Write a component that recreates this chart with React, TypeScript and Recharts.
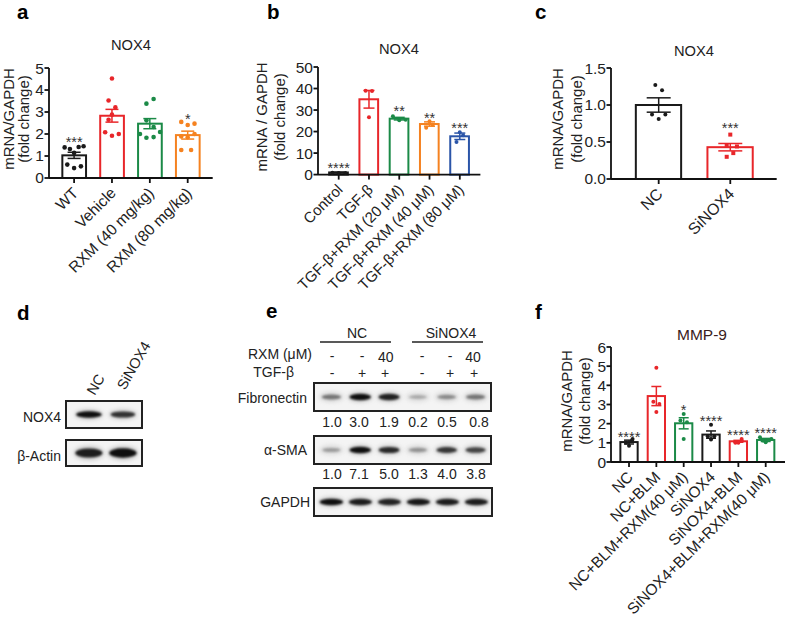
import {
  Bar,
  BarChart,
  ComposedChart,
  ErrorBar,
  Scatter,
  XAxis,
  YAxis,
} from "recharts";

const FONT = "'Liberation Sans', Arial, sans-serif";
const BLACK = "#1a1a1a";
const RED = "#e8262a";
const GREEN = "#1b8a47";
const ORANGE = "#f58220";
const BLUE = "#2b55a8";

// panel a
const aLabels = ["WT", "Vehicle", "RXM (40 mg/kg)", "RXM (80 mg/kg)"];
const aMeans = [1.03, 2.83, 2.47, 1.95];
const aErrs = [0.14, 0.29, 0.23, 0.18];
const aDots = [
  [1.39, 1.32, 1.41, 1.44, 1.14, 0.61, 0.45, 0.53],
  [4.52, 3.52, 3.21, 2.88, 2.65, 2.08, 1.92, 2.0],
  [3.38, 3.59, 2.62, 2.32, 2.0, 2.09, 1.83, 1.86],
  [2.55, 2.47, 2.41, 2.0, 1.89, 1.85, 1.27, 1.27],
];
const aJitter = [
  [-0.25, -0.11, 0.12, 0.25, 0, -0.18, 0, 0.18],
  [0, -0.09, 0.09, 0, -0.09, -0.18, 0, 0.18],
  [-0.09, 0.1, -0.09, 0.1, -0.26, 0.27, -0.09, 0.1],
  [-0.17, 0.18, 0, 0.18, -0.17, 0, -0.17, 0.09],
];
const aStars = [
  { x: 1, y: 1.77, label: "***" },
  { x: 4, y: 2.8, label: "*" },
];

// panel b
const bLabels = [
  "Control",
  "TGF-β",
  "TGF-β+RXM (20 μM)",
  "TGF-β+RXM (40 μM)",
  "TGF-β+RXM (80 μM)",
];
const bMeans = [1, 35, 26, 23.5, 17.8];
const bErrs = [0.1, 4.1, 0.6, 1, 1.5];
const bDots = [
  [0.9, 0.7, 0.8],
  [39, 38.9, 26.6],
  [27.1, 25.2, 25.5],
  [24.8, 21.8, 23.2],
  [19.7, 15.2, 18.3],
];
const bJitter = [
  [-0.21, 0, 0.22],
  [-0.11, 0.1, 0],
  [-0.21, 0, 0.21],
  [0, -0.11, 0.1],
  [0, -0.11, 0.11],
];
const bStars = [
  { x: 1, y: 4.3, label: "****" },
  { x: 3, y: 30.8, label: "**" },
  { x: 4, y: 27.9, label: "**" },
  { x: 5, y: 22.9, label: "***" },
];

// panel c
const cLabels = ["NC", "SiNOX4"];
const cMeans = [1.0, 0.43];
const cErrs = [0.097, 0.05];
const cDots = [
  [1.27, 1.2, 0.87, 0.87, 0.81],
  [0.6, 0.45, 0.44, 0.35, 0.3],
];
const cJitter = [
  [-0.047, 0.047, -0.093, 0.093, 0],
  [0, -0.05, 0.093, 0.042, -0.05],
];
const cStars = [{ x: 2, y: 0.725, label: "***" }];

// panel f
const fLabels = [
  "NC",
  "NC+BLM",
  "NC+BLM+RXM(40 μM)",
  "SiNOX4",
  "SiNOX4+BLM",
  "SiNOX4+BLM+RXM(40 μM)",
];
const fMeans = [1.04, 3.44, 2.02, 1.43, 1.08, 1.15];
const fErrs = [0.1, 0.5, 0.29, 0.19, 0.05, 0.08];
const fDots = [
  [1.0, 0.85, 1.12, 1.2],
  [4.92, 3.15, 3.03, 2.61],
  [2.5, 2.16, 2.07, 1.2],
  [1.95, 1.34, 1.34, 1.18],
  [1.0, 1.0, 1.2, 1.1],
  [1.29, 1.03, 1.2, 1.12],
];
const fJitter = [
  [-0.11, 0, 0.11, 0.13],
  [0, -0.11, 0.11, 0],
  [0, -0.12, 0.12, 0],
  [0, -0.12, 0.12, 0],
  [-0.11, 0, 0.12, 0.12],
  [-0.21, 0, 0.21, -0.1],
];
const fStars = [
  { x: 1, y: 1.47, label: "****" },
  { x: 3, y: 2.85, label: "*" },
  { x: 4, y: 2.3, label: "****" },
  { x: 5, y: 1.55, label: "****" },
  { x: 6, y: 1.65, label: "****" },
];

// blots: band strength per lane
const dNox4Bands = [1, 0.8];
const dActinBands = [0.92, 1];
const fibronectinBands = [0.42, 1, 0.9, 0.12, 0.3, 0.42];
const smaBands = [0.2, 1, 0.85, 0.25, 0.78, 0.7];
const gapdhBands = [1, 0.92, 0.88, 0.95, 0.92, 0.92];
const fibronectinRatios = ["1.0", "3.0", "1.9", "0.2", "0.5", "0.8"];
const smaRatios = ["1.0", "7.1", "5.0", "1.3", "4.0", "3.8"];

function AngledTick({ x, y, payload, labels, size }: any) {
  const ax = x + 5;
  const ay = y + 9;
  return (
    <text
      x={ax}
      y={ay}
      textAnchor="end"
      fontSize={size}
      fontFamily={FONT}
      fill="#222"
      transform={`rotate(-45 ${ax} ${ay})`}
    >
      {labels[payload.value - 1]}
    </text>
  );
}

function BarPanel(props: any) {
  const {
    left, top, plotW, plotH, xDomain, yMax, yTicks, labels, means, errs,
    dots, jitter, colors, barW, capW, stars, yFormat, squares, r = 2.3, tickSize = 15,
  } = props;
  const rows = means.map((m: number, i: number) => ({ x: i + 1, mean: m }));
  const ticks = means.map((_: number, i: number) => i + 1);
  return (
    <div style={{ position: "absolute", left: left - 60, top: top - 20 }}>
      <ComposedChart
        width={plotW + 62}
        height={plotH + 190}
        data={rows}
        margin={{ top: 20, left: 20, right: 2, bottom: 0 }}
      >
        <XAxis
          dataKey="x"
          type="number"
          domain={xDomain}
          ticks={ticks}
          interval={0}
          height={170}
          stroke="#111"
          strokeWidth={1.8}
          tickSize={5}
          tick={<AngledTick labels={labels} size={tickSize} />}
        />
        <YAxis
          type="number"
          domain={[0, yMax]}
          ticks={yTicks}
          interval={0}
          width={40}
          stroke="#111"
          strokeWidth={1.8}
          tickSize={4.5}
          tickMargin={0.5}
          tickFormatter={yFormat}
          tick={{ fontSize: 15.5, fontFamily: FONT, fill: "#222", strokeWidth: 0 }}
        />
        <Bar
          dataKey="mean"
          isAnimationActive={false}
          shape={(p: any) => (
            <rect
              x={p.x + p.width / 2 - (barW - 2) / 2}
              y={p.y}
              width={barW - 2}
              height={p.height}
              fill="none"
              stroke={colors[p.index]}
              strokeWidth={2}
            />
          )}
        />
        {means.map((m: number, i: number) => (
          <Scatter
            key={"err" + i}
            data={[{ x: i + 1, y: m, err: errs[i] }]}
            dataKey="y"
            isAnimationActive={false}
            shape={() => <g />}
          >
            <ErrorBar
              dataKey="err"
              direction="y"
              width={capW}
              stroke={colors[i]}
              strokeWidth={1.5}
              isAnimationActive={false}
            />
          </Scatter>
        ))}
        {dots.map((vals: number[], i: number) => (
          <Scatter
            key={"dots" + i}
            data={vals.map((v, k) => ({ x: i + 1 + jitter[i][k], y: v }))}
            dataKey="y"
            isAnimationActive={false}
            shape={(p: any) =>
              squares && squares[i] ? (
                <rect x={p.cx - r} y={p.cy - r} width={r * 2} height={r * 2} fill={colors[i]} />
              ) : (
                <circle cx={p.cx} cy={p.cy} r={r} fill={colors[i]} />
              )
            }
          />
        ))}
        <Scatter
          data={stars}
          dataKey="y"
          isAnimationActive={false}
          shape={(p: any) => (
            <text
              x={p.cx}
              y={p.cy + 8}
              textAnchor="middle"
              fontSize={14.5}
              fontFamily={FONT}
              fill="#333"
            >
              {p.payload.label}
            </text>
          )}
        />
      </ComposedChart>
    </div>
  );
}

function Blot({ left, top, width, height, bands, laneMargin, bandH, bandW, border = 2 }: any) {
  const rows = bands.map((b: number, i: number) => ({ lane: i, band: b }));
  const innerW = width - border * 2;
  const innerH = height - border * 2;
  return (
    <div
      style={{
        position: "absolute",
        left,
        top,
        width,
        height,
        boxSizing: "border-box",
        border: `${border}px solid #222`,
        background: "#f4f4f4",
      }}
    >
      <BarChart
        width={innerW}
        height={innerH}
        data={rows}
        margin={{ top: 0, bottom: 0, left: laneMargin[0], right: laneMargin[1] }}
      >
        <XAxis dataKey="lane" hide />
        <YAxis hide domain={[0, 1]} />
        <Bar
          dataKey="band"
          isAnimationActive={false}
          shape={(p: any) => {
            const s = p.payload.band;
            const cx = p.x + p.width / 2;
            const cy = innerH / 2;
            const gray = Math.round(190 - 175 * s);
            return (
              <g>
                <ellipse
                  cx={cx}
                  cy={cy}
                  rx={bandW / 2 + 1}
                  ry={bandH * 0.7}
                  fill="#9a9a9a"
                  opacity={0.2 + 0.35 * s}
                  style={{ filter: "blur(2px)" }}
                />
                <ellipse
                  cx={cx}
                  cy={cy}
                  rx={(bandW / 2) * (0.78 + 0.2 * s)}
                  ry={(bandH / 2) * (0.5 + 0.45 * s)}
                  fill={`rgb(${gray},${gray},${gray})`}
                  style={{ filter: "blur(1px)" }}
                />
              </g>
            );
          }}
        />
      </BarChart>
    </div>
  );
}

function T({ x, y, size = 14, anchor = "middle", weight, fill = "#222", rotate, children }: any) {
  return (
    <text
      x={x}
      y={y}
      fontSize={size}
      textAnchor={anchor}
      fontWeight={weight}
      fill={fill}
      fontFamily={FONT}
      transform={rotate ? `rotate(${rotate} ${x} ${y})` : undefined}
    >
      {children}
    </text>
  );
}

export default function App() {
  return (
    <div
      style={{
        position: "absolute",
        left: 0,
        top: 0,
        width: 785,
        height: 618,
        overflow: "hidden",
        background: "#fff",
      }}
    >
      <BarPanel
        left={49.3} top={68.3} plotW={163.7} plotH={110}
        xDomain={[0.337, 4.66]} yMax={5} yTicks={[0, 1, 2, 3, 4, 5]}
        labels={aLabels} means={aMeans} errs={aErrs} dots={aDots} jitter={aJitter}
        colors={[BLACK, RED, GREEN, ORANGE]} barW={25.7} capW={6.5} stars={aStars} tickSize={15.5}
      />
      <BarPanel
        left={318.3} top={66.7} plotW={162.4} plotH={107.6}
        xDomain={[0.316, 5.68]} yMax={50} yTicks={[0, 10, 20, 30, 40, 50]}
        labels={bLabels} means={bMeans} errs={bErrs} dots={bDots} jitter={bJitter}
        colors={[BLACK, RED, GREEN, ORANGE, BLUE]} barW={20.7} capW={5.5} stars={bStars} r={2}
      />
      <BarPanel
        left={611} top={68} plotW={165.7} plotH={111}
        xDomain={[0.334, 2.648]} yMax={1.5} yTicks={[0, 0.5, 1, 1.5]}
        yFormat={(v: number) => v.toFixed(1)}
        labels={cLabels} means={cMeans} errs={cErrs} dots={cDots} jitter={cJitter}
        colors={[BLACK, RED]} barW={47.3} capW={12} stars={cStars} squares={[false, true]} r={2} tickSize={16}
      />
      <BarPanel
        left={611} top={347.3} plotW={174} plotH={115}
        xDomain={[0.341, 6.706]} yMax={6} yTicks={[0, 1, 2, 3, 4, 5, 6]}
        labels={fLabels} means={fMeans} errs={fErrs} dots={fDots} jitter={fJitter}
        colors={[BLACK, RED, GREEN, BLACK, RED, GREEN]} barW={19.3} capW={5} stars={fStars} r={2} tickSize={15.5}
      />

      <Blot left={65} top={400} width={78} height={29} bands={dNox4Bands} laneMargin={[5, 1]} bandH={7} bandW={26} />
      <Blot left={65} top={439} width={78} height={28} bands={dActinBands} laneMargin={[5, 1]} bandH={10} bandW={28} />
      <Blot left={313} top={382} width={179} height={30} bands={fibronectinBands} laneMargin={[2, 0]} bandH={7} bandW={22} />
      <Blot left={313} top={435} width={179} height={30} bands={smaBands} laneMargin={[2, 0]} bandH={7} bandW={22} />
      <Blot left={313} top={487} width={180} height={30} bands={gapdhBands} laneMargin={[2, 0]} bandH={7} bandW={24} />

      <svg width={785} height={618} style={{ position: "absolute", left: 0, top: 0 }}>
        <T x={17} y={18.5} size={20.5} weight="bold" anchor="start" fill="#000">a</T>
        <T x={267} y={18.5} size={20.5} weight="bold" anchor="start" fill="#000">b</T>
        <T x={535} y={18.5} size={20.5} weight="bold" anchor="start" fill="#000">c</T>
        <T x={17} y={320} size={20.5} weight="bold" anchor="start" fill="#000">d</T>
        <T x={266} y={318} size={20.5} weight="bold" anchor="start" fill="#000">e</T>
        <T x={535} y={319} size={20.5} weight="bold" anchor="start" fill="#000">f</T>

        <T x={131} y={50} size={14.7}>NOX4</T>
        <T x={399} y={54} size={14.7}>NOX4</T>
        <T x={694} y={56} size={14.7}>NOX4</T>
        <T x={702} y={340} size={15.5} fill="#3a2020">MMP-9</T>

        <T x={14} y={119} size={15} rotate={-90}>mRNA/GAPDH</T>
        <T x={29} y={119} size={15} rotate={-90}>(fold change)</T>
        <T x={267} y={117} size={15} rotate={-90}>mRNA / GAPDH</T>
        <T x={285} y={117} size={15} rotate={-90}>(fold change)</T>
        <T x={563} y={119} size={15} rotate={-90}>mRNA/GAPDH</T>
        <T x={582} y={119} size={15} rotate={-90}>(fold change)</T>
        <T x={572} y={401} size={15} rotate={-90}>mRNA/GAPDH</T>
        <T x={590} y={401} size={15} rotate={-90}>(fold change)</T>

        <T x={100} y={387} size={14.5} rotate={-60}>NC</T>
        <T x={138} y={368} size={14.5} rotate={-60}>SiNOX4</T>
        <T x={61} y={422} anchor="end">NOX4</T>
        <T x={61} y={461} anchor="end">β-Actin</T>

        <T x={357} y={338}>NC</T>
        <T x={451} y={338}>SiNOX4</T>
        <line x1={320} x2={391} y1={342} y2={342} stroke="#222" strokeWidth={1.5} />
        <line x1={412} x2={483} y1={342} y2={342} stroke="#222" strokeWidth={1.5} />
        <T x={312} y={359} anchor="end">RXM (μM)</T>
        <T x={294} y={377} anchor="end">TGF-β</T>
        <T x={332} y={361}>-</T>
        <T x={362} y={361}>-</T>
        <T x={385.7} y={362}>40</T>
        <T x={422} y={361}>-</T>
        <T x={450} y={361}>-</T>
        <T x={473} y={362}>40</T>
        <T x={332} y={378}>-</T>
        <T x={362} y={378}>+</T>
        <T x={385} y={378}>+</T>
        <T x={422} y={378}>-</T>
        <T x={450} y={378}>+</T>
        <T x={474} y={378}>+</T>

        <T x={307} y={403} anchor="end">Fibronectin</T>
        <T x={307} y={455} anchor="end">α-SMA</T>
        <T x={310} y={507} anchor="end">GAPDH</T>
        {fibronectinRatios.map((s, i) => (
          <T key={i} x={[332, 359, 389, 418, 447, 479][i]} y={427}>{s}</T>
        ))}
        {smaRatios.map((s, i) => (
          <T key={i} x={[332, 359, 389, 418, 447, 476][i]} y={479}>{s}</T>
        ))}
      </svg>
    </div>
  );
}
